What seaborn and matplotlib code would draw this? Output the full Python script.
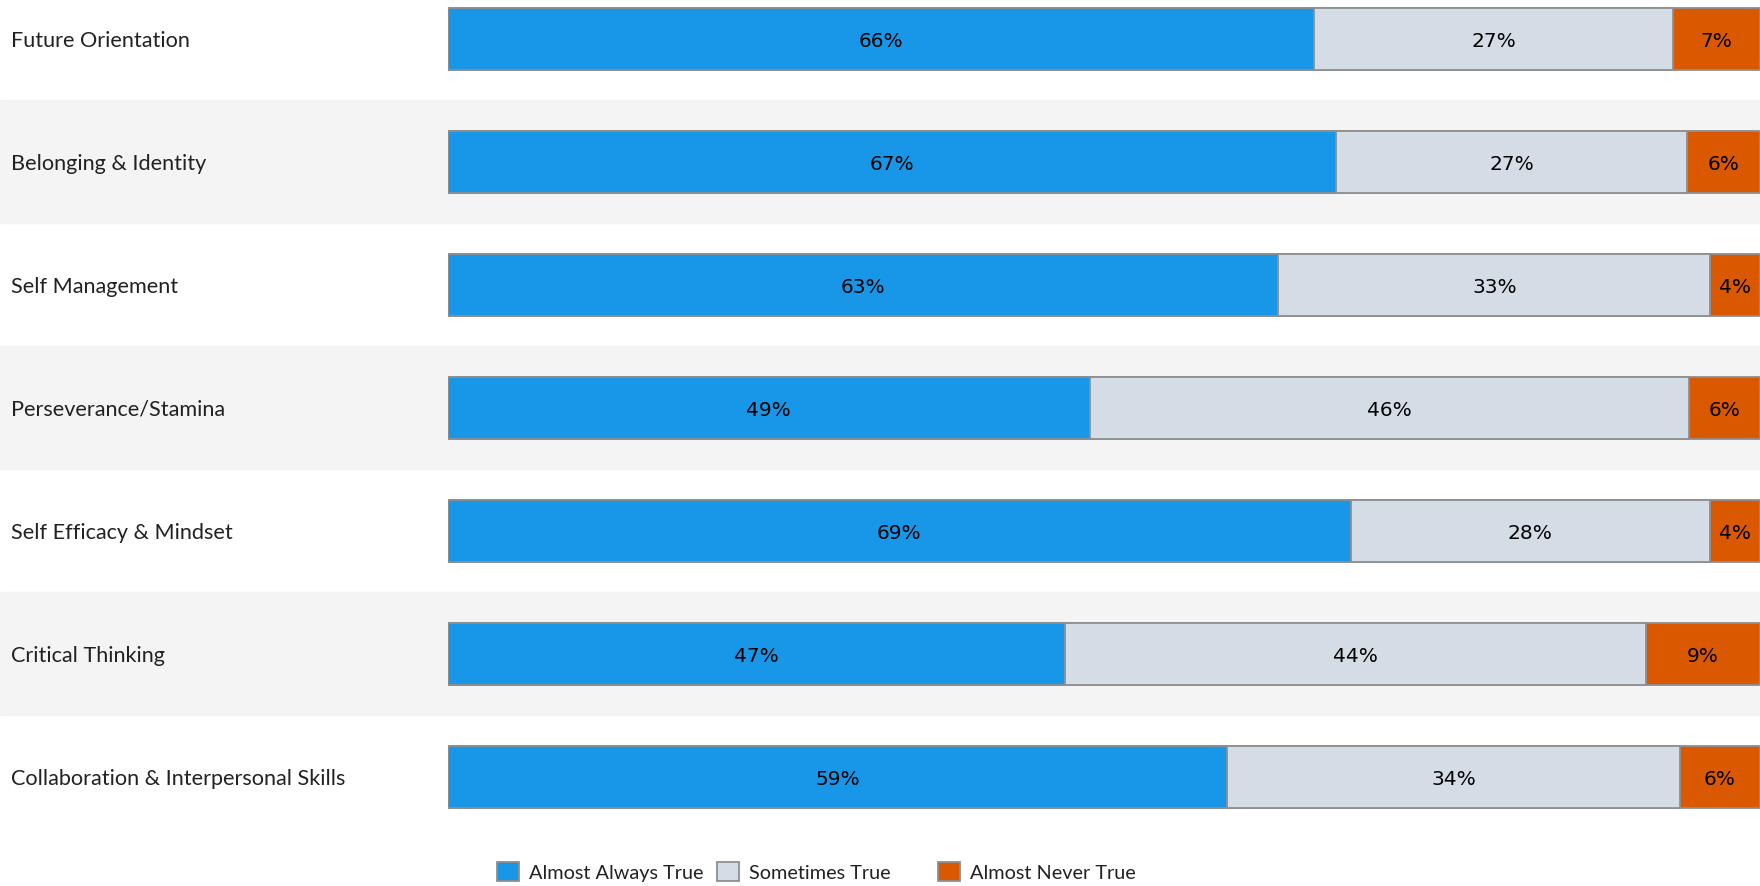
import pandas as pd
import seaborn as sns
import matplotlib.pyplot as plt
from matplotlib.patches import Patch

categories = ['Future Orientation', 'Belonging & Identity', 'Self Management',
              'Perseverance/Stamina', 'Self Efficacy & Mindset', 'Critical Thinking',
              'Collaboration & Interpersonal Skills']
# shares (%)
always = [66.0, 67.7, 63.3, 48.9, 68.8, 47.0, 59.4]
sometimes = [27.4, 26.7, 32.9, 45.7, 27.4, 44.3, 34.5]
never = [6.6, 5.6, 3.8, 5.4, 3.8, 8.7, 6.1]
# rounded labels printed on the bars
always_lbl = ['66%', '67%', '63%', '49%', '69%', '47%', '59%']
sometimes_lbl = ['27%', '27%', '33%', '46%', '28%', '44%', '34%']
never_lbl = ['7%', '6%', '4%', '6%', '4%', '9%', '6%']

series = ['Almost Always True', 'Sometimes True', 'Almost Never True']
colors = ['#1896e8', '#d4dce5', '#d95800']

df = pd.DataFrame({'category': categories, 'always': always,
                   'sometimes': sometimes, 'never': never})
df['c1'] = df['always']
df['c2'] = df['always'] + df['sometimes']
df['c3'] = df['c2'] + df['never']

sns.set_theme(style='white')
plt.rcParams['font.family'] = ['Lato', 'DejaVu Sans']

W, H = 1760, 886
fig = plt.figure(figsize=(W / 100, H / 100), dpi=100)
x0 = 448 / W
ax = fig.add_axes([x0, 1 - 838.5 / H, 1 - x0, 838.5 / H])

# alternating row bands across the full width
for i in range(len(categories)):
    if i % 2 == 1:
        ax.axhspan(i - 0.5, i + 0.5, xmin=-x0 / (1 - x0), xmax=1,
                   color='#f4f4f4', zorder=0, clip_on=False)

edge = dict(edgecolor='#8f8f8f', linewidth=1.3, orient='h', width=0.5)
sns.barplot(data=df, x='c3', y='category', color=colors[2], ax=ax, saturation=1, **edge)
sns.barplot(data=df, x='c2', y='category', color=colors[1], ax=ax, saturation=1, **edge)
sns.barplot(data=df, x='c1', y='category', color=colors[0], ax=ax, saturation=1, **edge)

for i in range(len(categories)):
    lefts = [0, df['c1'][i], df['c2'][i]]
    rights = [df['c1'][i], df['c2'][i], df['c3'][i]]
    labels = [always_lbl[i], sometimes_lbl[i], never_lbl[i]]
    for l, r, s in zip(lefts, rights, labels):
        ax.text((l + r) / 2, i + 0.02, s, ha='center', va='center',
                fontsize=14.5, color='#000000', family='DejaVu Sans')

ax.set_xlim(0, 100)
ax.set_ylim(6.5, -0.317)
ax.set_xlabel('')
ax.set_ylabel('')
ax.set_xticks([])
sns.despine(ax=ax, left=True, bottom=True)
ax.tick_params(axis='y', length=0, pad=(448 - 11) * 0.72)
for t in ax.get_yticklabels():
    t.set_ha('left')
    t.set_fontsize(15.6)
    t.set_color('#222222')
ax.patch.set_alpha(0)

# legend entries sit in fixed-width columns
for k, (c, name) in enumerate(zip(colors, series)):
    h = Patch(facecolor=c, edgecolor='#8f8f8f', linewidth=1.3)
    fig.legend([h], [name], loc='center left',
               bbox_to_anchor=((479 + k * 220.5) / W, 1 - 872 / H),
               frameon=False, fontsize=14.3, handlelength=1.1, handleheight=1.1,
               handletextpad=0.5, labelcolor='#222222')

fig.savefig('out.png', dpi=100)
